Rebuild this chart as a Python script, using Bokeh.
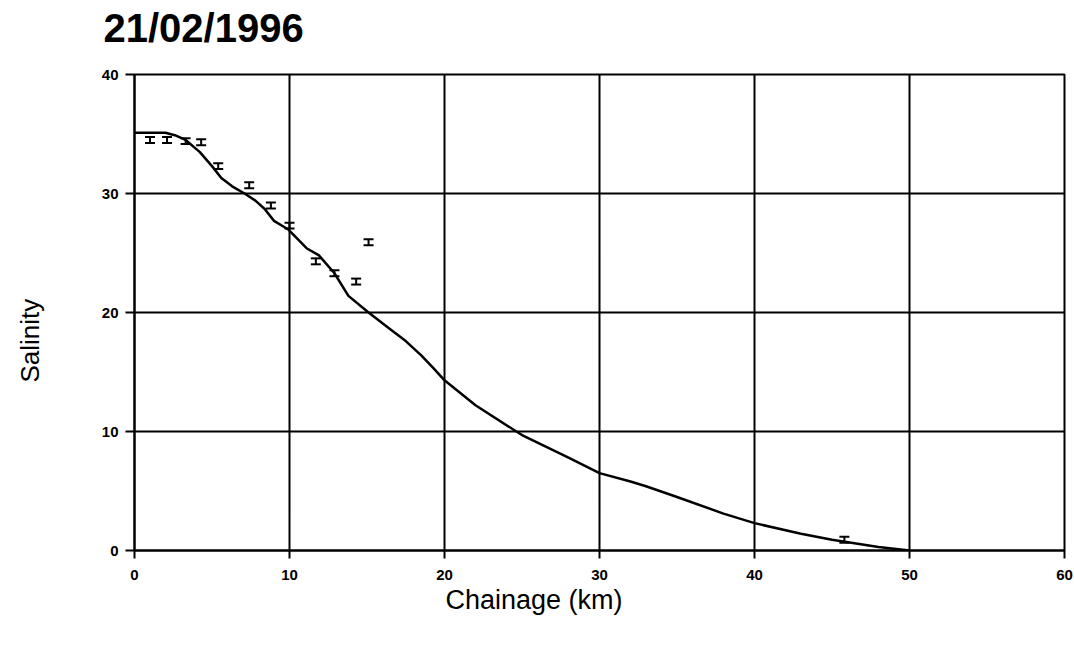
from bokeh.plotting import figure
from bokeh.models import ColumnDataSource, Whisker, TeeHead, Title, FixedTicker, Range1d
from bokeh.embed import file_html
from bokeh.resources import INLINE

# Modelled salinity along the estuary (line)
model_km = [0, 1, 2, 2.6, 3.3, 4.2, 5.0, 5.6, 6.3, 7.1, 7.8, 8.4, 9.0, 9.9,
            10.5, 11.1, 11.9, 12.9, 13.8, 15.1, 16.5, 17.5, 18.5, 19.3, 20,
            22, 25, 28, 30, 32, 33, 35, 38, 40, 43, 45, 48, 50]
model_sal = [35.1, 35.1, 35.1, 34.9, 34.5, 33.5, 32.3, 31.3, 30.6, 30.0, 29.4,
             28.7, 27.7, 27.0, 26.2, 25.4, 24.8, 23.3, 21.4, 20.0, 18.6, 17.6,
             16.4, 15.3, 14.3, 12.2, 9.7, 7.8, 6.5, 5.8, 5.4, 4.5, 3.1, 2.3,
             1.4, 0.9, 0.3, 0.0]

# Observed salinity with its uncertainty
obs_km = [1.0, 2.1, 3.3, 4.3, 5.4, 7.4, 8.8, 10.0, 11.7, 12.9, 14.3, 15.1, 45.8]
obs_sal = [34.5, 34.5, 34.4, 34.3, 32.3, 30.7, 29.0, 27.3, 24.3, 23.3, 22.6, 25.9, 0.9]
obs_err = [0.25] * len(obs_km)

x_ticks = [0, 10, 20, 30, 40, 50, 60]
y_ticks = [0, 10, 20, 30, 40]

FONT = "Liberation Sans"

p = figure(width=1074, height=646, output_backend="svg", toolbar_location=None,
           x_range=Range1d(0, 60), y_range=Range1d(0, 40),
           min_border_left=134, min_border_right=10,
           min_border_top=74, min_border_bottom=96)
p.background_fill_color = "white"
p.border_fill_color = "white"
p.outline_line_color = "black"
p.outline_line_width = 2


def push_out(title, gap, fallback_standoff):
    """Keep a caption away from the frame by padding its inner side."""
    try:
        title.padding = dict(left=0, right=0, top=0, bottom=gap)
        title.standoff = 0
    except Exception:
        title.standoff = fallback_standoff


# Heading, left-aligned a little outside the frame
p.title.text = "21/02/1996"
p.title.align = "left"
p.title.offset = -31
p.title.text_font = FONT
p.title.text_font_style = "bold"
p.title.text_font_size = "40px"
p.title.text_color = "black"
push_out(p.title, 25, 26)

for ax in (p.xaxis, p.yaxis):
    ax.axis_line_color = "black"
    ax.axis_line_width = 2
    ax.major_tick_line_color = "black"
    ax.major_tick_line_width = 2
    ax.major_tick_in = 0
    ax.minor_tick_line_color = None
    ax.major_label_text_font = FONT
    ax.major_label_text_font_style = "bold"
    ax.major_label_text_font_size = "15px"
    ax.major_label_text_color = "black"

p.xaxis.ticker = FixedTicker(ticks=x_ticks)
p.yaxis.ticker = FixedTicker(ticks=y_ticks)
p.xaxis.major_tick_out = 8
p.yaxis.major_tick_out = 9
p.xaxis.major_label_standoff = 11
p.yaxis.major_label_standoff = 7

p.xgrid.ticker = FixedTicker(ticks=x_ticks)
p.ygrid.ticker = FixedTicker(ticks=y_ticks)
for g in (p.xgrid, p.ygrid):
    g.grid_line_color = "black"
    g.grid_line_width = 2
    g.grid_line_alpha = 1.0

p.line(model_km, model_sal, line_color="black", line_width=2.5)

src = ColumnDataSource(dict(
    x=obs_km,
    lo=[s - e for s, e in zip(obs_sal, obs_err)],
    hi=[s + e for s, e in zip(obs_sal, obs_err)],
))
p.add_layout(Whisker(source=src, base="x", lower="lo", upper="hi",
                     line_color="black", line_width=2,
                     upper_head=TeeHead(size=10, line_color="black", line_width=2),
                     lower_head=TeeHead(size=10, line_color="black", line_width=2)))

# Axis captions
p.add_layout(Title(text="Chainage (km)", align="left", offset=311, standoff=0,
                   text_font=FONT, text_font_style="normal",
                   text_font_size="27px", text_color="black"), "below")
y_caption = Title(text="Salinity", align="left", offset=168,
                  text_font=FONT, text_font_style="normal",
                  text_font_size="26px", text_color="black")
push_out(y_caption, 54, 59)
p.add_layout(y_caption, "left")

open("out.html", "w").write(file_html(p, INLINE))
